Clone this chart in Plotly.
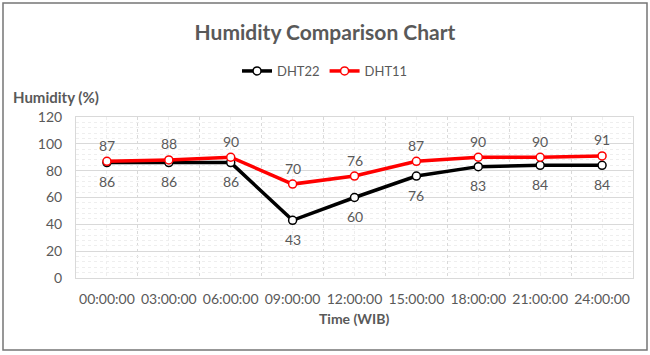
import plotly.graph_objects as go

times = ["00:00:00", "03:00:00", "06:00:00", "09:00:00", "12:00:00",
         "15:00:00", "18:00:00", "21:00:00", "24:00:00"]
dht22 = [86, 86, 86, 43, 60, 76, 83, 84, 84]
dht11 = [87, 88, 90, 70, 76, 87, 90, 90, 91]
y_ticks = [0, 20, 40, 60, 80, 100, 120]

W, H = 650, 355
L, R, T, B = 76, 17, 117, 77
pw, ph = W - L - R, H - T - B
FONT = "Lato, Carlito, 'Open Sans', sans-serif"
GRAY = "#595959"

xs = list(range(len(times)))

fig = go.Figure()
fig.add_trace(go.Scatter(
    x=xs, y=dht22, name="DHT22", mode="lines+markers",
    line=dict(color="black", width=3.5),
    marker=dict(size=8, color="white", line=dict(color="black", width=1.5)),
    cliponaxis=False,
))
fig.add_trace(go.Scatter(
    x=xs, y=dht11, name="DHT11", mode="lines+markers",
    line=dict(color="#ff0000", width=3.5),
    marker=dict(size=8, color="white", line=dict(color="#ff0000", width=1.5)),
    cliponaxis=False,
))

annotations = []
for i, v in zip(xs, dht22):
    annotations.append(dict(x=i, y=v, xref="x", yref="y", text=str(v),
                            showarrow=False, yshift=-19, yanchor="middle",
                            font=dict(size=14, color=GRAY, family=FONT)))
for i, v in zip(xs, dht11):
    annotations.append(dict(x=i, y=v, xref="x", yref="y", text=str(v),
                            showarrow=False, yshift=16, yanchor="middle",
                            font=dict(size=14, color=GRAY, family=FONT)))
annotations += [
    dict(text="<b>Humidity (%)</b>", xref="paper", yref="paper",
         x=(11 - L) / pw, y=(H - B - 97) / ph, xanchor="left",
         yanchor="middle", showarrow=False,
         font=dict(size=15, color=GRAY, family=FONT)),
    dict(text="<b>Time (WIB)</b>", xref="paper", yref="paper",
         x=(354 - L) / pw, y=(H - B - 318) / ph, xanchor="center",
         yanchor="middle", showarrow=False,
         font=dict(size=14, color=GRAY, family=FONT)),
]

fig.update_layout(
    width=W, height=H,
    margin=dict(l=L, r=R, t=T, b=B, autoexpand=False),
    paper_bgcolor="white", plot_bgcolor="white",
    font=dict(family=FONT, color=GRAY, size=13),
    title=dict(text="<b>Humidity Comparison Chart</b>", x=0.5, xanchor="center",
               y=1 - 33 / H, yanchor="middle",
               font=dict(size=21, color=GRAY, family=FONT)),
    showlegend=True,
    legend=dict(orientation="h", x=0.5, xanchor="center", xref="container",
                y=1 - 71 / H, yanchor="middle", yref="container",
                font=dict(size=13, color=GRAY, family=FONT),
                itemwidth=30, bgcolor="rgba(0,0,0,0)"),
    xaxis=dict(
        range=[-0.5, len(times) - 0.5],
        tickmode="array", tickvals=xs, ticktext=times,
        showgrid=True, gridcolor="#eeeeee", gridwidth=1, griddash="dot",
        minor=dict(tick0=0.5, dtick=1, showgrid=True, gridcolor="#d9d9d9",
                   gridwidth=1, ticks=""),
        showline=True, linecolor="#d9d9d9", mirror=True,
        ticks="", ticklabelstandoff=8, zeroline=False,
        tickfont=dict(size=14, color=GRAY),
        fixedrange=True, automargin=False,
    ),
    yaxis=dict(
        range=[0, 120],
        tickmode="array", tickvals=y_ticks,
        showgrid=True, gridcolor="#d9d9d9", gridwidth=1,
        minor=dict(dtick=4, showgrid=True, gridcolor="#eeeeee",
                   griddash="dot", gridwidth=1, ticks=""),
        showline=True, linecolor="#d9d9d9", mirror=True,
        ticks="", ticklabelstandoff=10, zeroline=False,
        tickfont=dict(size=14, color=GRAY),
        fixedrange=True, automargin=False,
    ),
    annotations=annotations,
    shapes=[
        dict(type="rect", xref="paper", yref="paper",
             x0=(3 - L) / pw, x1=(647 - L) / pw,
             y0=(H - B - 350) / ph, y1=(H - B - 3) / ph,
             line=dict(color="#767676", width=1.5), fillcolor="rgba(0,0,0,0)",
             layer="below"),
    ],
)

fig.write_html(
    "out.html",
    config={"displayModeBar": False, "staticPlot": True},
    post_script="document.body.style.margin='0';document.body.style.overflow='hidden';",
)
